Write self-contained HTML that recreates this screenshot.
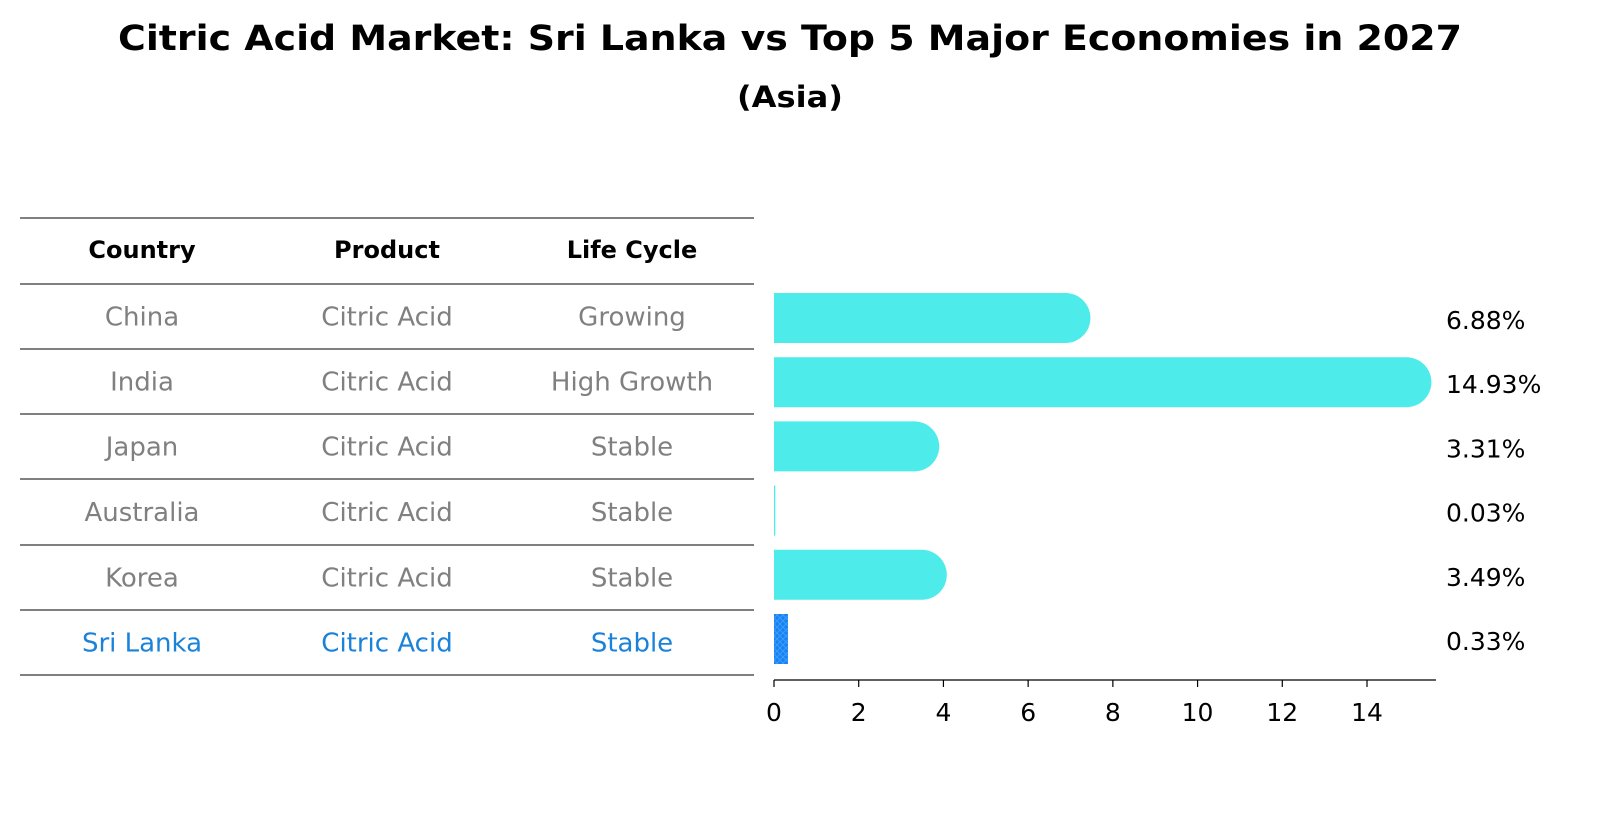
<!DOCTYPE html>
<html><head><meta charset="utf-8"><style>
html,body{margin:0;padding:0;background:#fff;overflow:hidden;width:1604px;height:823px;}
svg{display:block;}
svg text{font-family:"DejaVu Sans","Liberation Sans",sans-serif;}
</style></head><body>
<svg width="1604" height="823" xmlns="http://www.w3.org/2000/svg">
<defs>
<pattern id="hatch" width="6" height="6" patternUnits="userSpaceOnUse">
<rect width="6" height="6" fill="#1a82f0"/><path d="M0,6 L6,0 M0,0 L6,6" stroke="#3a9cff" stroke-width="1"/>
</pattern>
</defs>
<text x="790" y="50" text-anchor="middle" font-size="35" font-weight="bold" textLength="1344" lengthAdjust="spacingAndGlyphs">Citric Acid Market: Sri Lanka vs Top 5 Major Economies in 2027</text>
<text x="790" y="107" text-anchor="middle" font-size="29" font-weight="bold" textLength="106" lengthAdjust="spacingAndGlyphs">(Asia)</text>
<g id="table"></g>
<g id="bars"></g>
<g id="axis"></g>
</svg>
<script>
const countries=["China","India","Japan","Australia","Korea","Sri Lanka"];
const products=["Citric Acid","Citric Acid","Citric Acid","Citric Acid","Citric Acid","Citric Acid"];
const lifeCycles=["Growing","High Growth","Stable","Stable","Stable","Stable"];
const values=[6.88,14.93,3.31,0.03,3.49,0.33];
const valueLabels=["6.88%","14.93%","3.31%","0.03%","3.49%","0.33%"];
const ticks=[0,2,4,6,8,10,12,14];
const NS="http://www.w3.org/2000/svg";
const x0=774,pxPer=(1367-774)/14;
const xs=v=>x0+v*pxPer;
const rowY=i=>318+i*64.2;
function mk(tag,attrs,parent){const e=document.createElementNS(NS,tag);for(const k in attrs)e.setAttribute(k,attrs[k]);parent.appendChild(e);return e;}
const tbl=document.getElementById('table'),bars=document.getElementById('bars'),ax=document.getElementById('axis');
const colX=[142,387,632];
const lines=[218,284,349,414,479,545,610,675];
lines.forEach(y=>{const l=mk('line',{x1:20,x2:754,y1:y,y2:y,stroke:'#000','stroke-width':1},tbl);

});
["Country","Product","Life Cycle"].forEach((h,j)=>{const t=mk('text',{x:colX[j],y:258,'text-anchor':'middle','font-size':24,'font-weight':'bold'},tbl);t.textContent=h;

});
countries.forEach((c,i)=>{
 const col=i===countries.length-1?'#1a82d8':'#808080';
 [c,products[i],lifeCycles[i]].forEach((s,j)=>{const t=mk('text',{x:colX[j],y:(lines[i+1]+lines[i+2])/2+9,'text-anchor':'middle','font-size':26,fill:col},tbl);t.textContent=s;
 
 });
 const y=rowY(i),h=50,last=i===countries.length-1,r=h/2;
 const w=xs(values[i])-x0;
 let b;
 if(last){b=mk('rect',{x:x0,y:y-h/2,width:Math.max(w,1),height:h,fill:'url(#hatch)'},bars);}
 else if(w<r){b=mk('rect',{x:x0,y:y-h/2,width:Math.max(w,1.3),height:h,fill:'#4debe9'},bars);}
 else b=mk('path',{d:`M${x0},${y-r} H${x0+w} A${r},${r} 0 0 1 ${x0+w},${y+r} H${x0} Z`,fill:'#4debe9'},bars);
 
 
 const vl=mk('text',{x:1446,y:y+11,'font-size':25},bars);vl.textContent=valueLabels[i];
 
 
});
const al=mk('line',{x1:x0,x2:1436,y1:680,y2:680,stroke:'#000','stroke-width':1.3},ax);


ticks.forEach(t=>{const tk=mk('line',{x1:xs(t),x2:xs(t),y1:680,y2:687,stroke:'#000','stroke-width':1.2},ax);


const tl=mk('text',{x:xs(t),y:721,'text-anchor':'middle','font-size':25},ax);tl.textContent=t;

});
</script>
</body></html>
